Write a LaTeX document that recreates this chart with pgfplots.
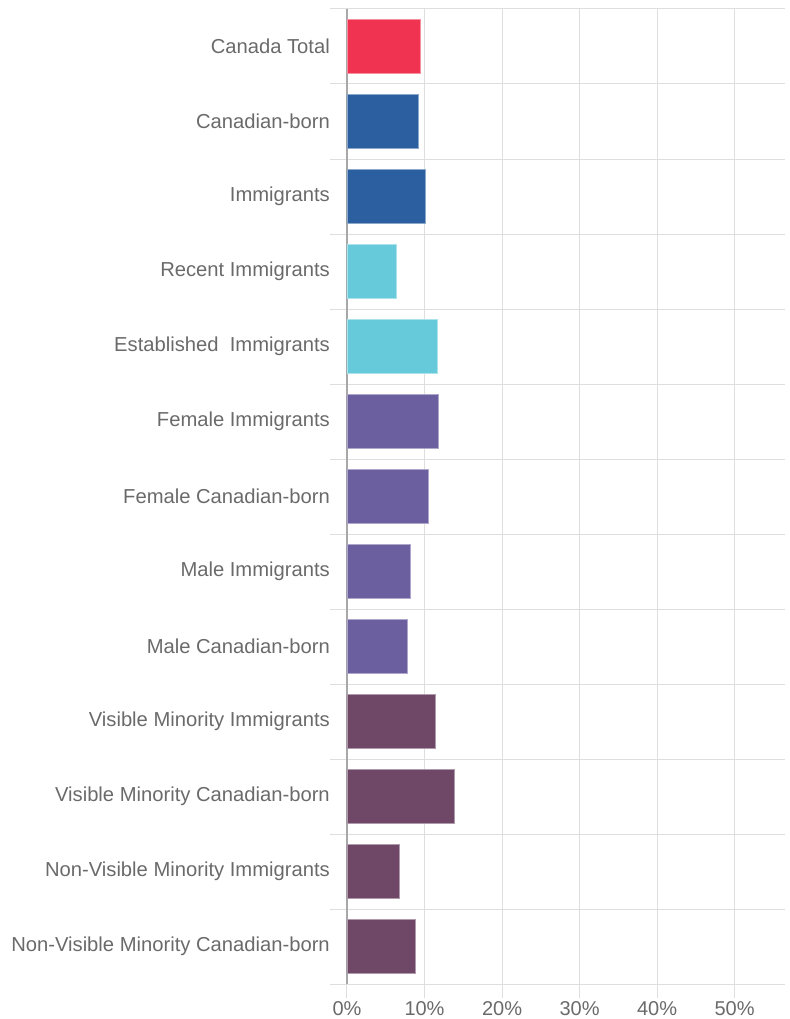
\documentclass[border=0pt]{standalone}
\usepackage{pgfplots}
\pgfplotsset{compat=1.18}
\usepackage{fontspec}
\setmainfont{Liberation Sans}
\definecolor{cred}{HTML}{EF3350}
\definecolor{cblue}{HTML}{2C5F9F}
\definecolor{ccyan}{HTML}{67CADB}
\definecolor{cpurple}{HTML}{6B5F9F}
\definecolor{cplum}{HTML}{6E4866}
\definecolor{gridc}{HTML}{DEDEDE}
\definecolor{axc}{HTML}{A8A8A8}
\definecolor{txt}{HTML}{6A6A6A}
\begin{document}
\begin{tikzpicture}
\begin{axis}[
  scale only axis, width=438pt, height=975pt,
  xmin=0, xmax=56.5, ymin=-0.5, ymax=12.5, y dir=reverse,
  xtick={0,10,20,30,40,50},
  xticklabels={0\%,10\%,20\%,30\%,40\%,50\%},
  ytick={0,1,2,3,4,5,6,7,8,9,10,11,12},
  yticklabels={Canada Total,Canadian-born,Immigrants,Recent Immigrants,Established\ \ Immigrants,Female Immigrants,Female Canadian-born,Male Immigrants,Male Canadian-born,Visible Minority Immigrants,Visible Minority Canadian-born,Non-Visible Minority Immigrants,Non-Visible Minority Canadian-born},
  minor ytick={-0.5,0.5,1.5,2.5,3.5,4.5,5.5,6.5,7.5,8.5,9.5,10.5,11.5,12.5},
  xmajorgrids, yminorgrids,
  major grid style={gridc, line width=1pt},
  minor grid style={gridc, line width=1pt},
  tick align=outside, major tick length=14pt, minor tick length=17pt,
  major x tick style={gridc, line width=1pt},
  major y tick style={draw=none},
  minor y tick style={gridc, line width=1pt},
  axis x line*=bottom, axis y line*=left,
  x axis line style={draw=none},
  y axis line style={axc, line width=1.3pt},
  tick label style={font=\fontsize{20}{24}\selectfont, text=txt},
  yticklabel style={inner sep=0pt, xshift=-3pt, font=\fontsize{20.2}{24}\selectfont},
  xticklabel style={inner sep=2pt, yshift=-1pt},
]
\addplot[xbar, bar shift=0pt, bar width=0.72, fill=cred, draw=cred!55!white, line width=0.6pt]
  coordinates {(9.4,0)};
\addplot[xbar, bar shift=0pt, bar width=0.72, fill=cblue, draw=cblue!55!white, line width=0.6pt]
  coordinates {(9.15,1) (10.1,2)};
\addplot[xbar, bar shift=0pt, bar width=0.72, fill=ccyan, draw=ccyan!55!white, line width=0.6pt]
  coordinates {(6.4,3) (11.7,4)};
\addplot[xbar, bar shift=0pt, bar width=0.72, fill=cpurple, draw=cpurple!55!white, line width=0.6pt]
  coordinates {(11.8,5) (10.5,6) (8.2,7) (7.8,8)};
\addplot[xbar, bar shift=0pt, bar width=0.72, fill=cplum, draw=cplum!55!white, line width=0.6pt]
  coordinates {(11.4,9) (13.8,10) (6.8,11) (8.8,12)};
\coordinate (tl) at (axis cs:0,-0.5);
\coordinate (br) at (axis cs:56.5,12.5);
\end{axis}
\pgfresetboundingbox
\path ([shift={(-347pt,9pt)}]tl) rectangle ([shift={(4pt,-35pt)}]br);
\end{tikzpicture}
\end{document}
